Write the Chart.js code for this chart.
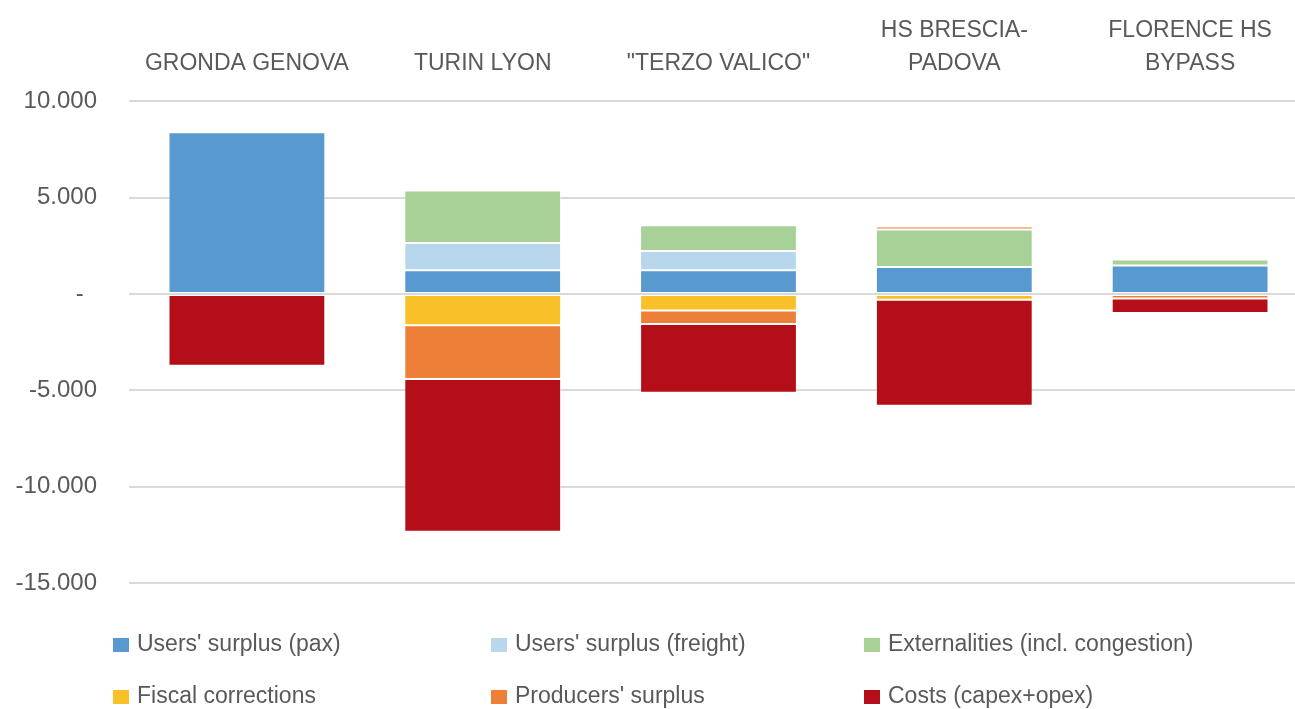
<!DOCTYPE html>
<html>
<head>
<meta charset="utf-8">
<script src="https://cdn.jsdelivr.net/npm/chart.js@4"></script>
<style>
  html, body { margin: 0; padding: 0; background: #fff; overflow: hidden; }
  #wrap { position: relative; width: 1295px; height: 709px; overflow: hidden; }
  #legend { position: absolute; left: 0; top: 0; width: 1295px; height: 709px; pointer-events: none;
            font-family: "Liberation Sans", Arial, sans-serif; font-size: 23px; color: #595959; }
  .item { position: absolute; white-space: nowrap; line-height: 26px; }
  .box { display: inline-block; width: 16px; height: 14px; margin-right: 8px; vertical-align: -1px; }
</style>
</head>
<body>
<div id="wrap">
  <canvas id="c" width="1312" height="709"></canvas>
  <div id="legend"></div>
</div>
<script>
const categories = ["GRONDA GENOVA", "TURIN LYON", "\"TERZO VALICO\"", ["HS BRESCIA-", "PADOVA"], ["FLORENCE HS", "BYPASS"]];
const seriesNames = ["Users' surplus (pax)", "Users' surplus (freight)", "Externalities (incl. congestion)", "Fiscal corrections", "Producers' surplus", "Costs (capex+opex)"];
const seriesColors = ["#5899CF", "#B8D6EC", "#A8D197", "#F9C02A", "#ED8039", "#B40F19"];

const usersPax      = [8400, 1240, 1240, 1400, 1480];
const usersFreight  = [0, 1410, 1000, 0, 0];
const externalities = [60, 2730, 1330, 1950, 310];
const fiscal        = [0, -1620, -850, -300, -50];
const producers     = [0, -2790, -700, 150, -180];
const costs         = [-3720, -7930, -3570, -5500, -750];

const yTicks = [10000, 5000, 0, -5000, -10000, -15000];

const seriesValues = [usersPax, usersFreight, externalities, fiscal, producers, costs];

function fmt(v) {
  if (v === 0) return "-  ";
  const s = Math.abs(v).toString().replace(/\B(?=(\d{3})+(?!\d))/g, ".");
  return (v < 0 ? "-" : "") + s;
}

const FONT = "'Liberation Sans', Arial, sans-serif";

new Chart(document.getElementById("c"), {
  type: "bar",
  data: {
    labels: categories,
    datasets: seriesNames.map((n, i) => ({
      label: n,
      data: seriesValues[i],
      backgroundColor: seriesColors[i],
      borderColor: "rgba(255,255,255,0.45)",
      borderWidth: 1,
      borderSkipped: false,
      barPercentage: 0.665,
      categoryPercentage: 1.0
    }))
  },
  options: {
    responsive: false,
    animation: false,
    layout: { padding: { left: 4, right: 4, top: 14, bottom: 126 } },
    plugins: { legend: { display: false }, tooltip: { enabled: false } },
    scales: {
      x: {
        position: "top",
        stacked: true,
        grid: { display: false, drawTicks: false },
        border: { display: false },
        afterFit: (s) => { s.height = s.height - 21; },
        ticks: {
          color: "#595959",
          font: { family: FONT, size: 23, lineHeight: 1.4 },
          padding: 22,
          maxRotation: 0,
          autoSkip: false
        }
      },
      y: {
        stacked: true,
        min: -15000,
        max: 10000,
        afterBuildTicks: (axis) => { axis.ticks = yTicks.map(v => ({ value: v })); },
        afterFit: (s) => { s.width = 125; },
        grid: { color: "#D9D9D9", lineWidth: 2, drawTicks: false },
        border: { display: false },
        ticks: {
          color: "#595959",
          font: { family: FONT, size: 24 },
          padding: 32,
          callback: (v) => fmt(v)
        }
      }
    }
  }
});

// legend (HTML, built from series arrays)
const legendPos = [[113, 630], [491, 630], [864, 630], [113, 682], [491, 682], [864, 682]];
const lg = document.getElementById("legend");
seriesNames.forEach((n, i) => {
  const d = document.createElement("div");
  d.className = "item";
  d.style.left = legendPos[i][0] + "px";
  d.style.top = legendPos[i][1] + "px";
  d.innerHTML = '<span class="box" style="background:' + seriesColors[i] + '"></span>' + n;
  lg.appendChild(d);
});
</script>
</body>
</html>
